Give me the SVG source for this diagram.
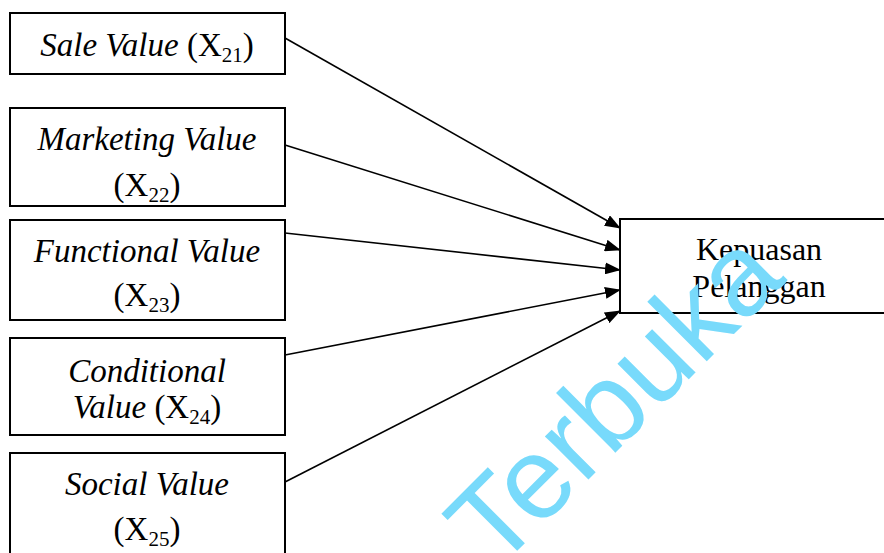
<svg xmlns="http://www.w3.org/2000/svg" width="884" height="553" viewBox="0 0 884 553">
<style>
.box{fill:#fff;stroke:#000;stroke-width:2}
.t{font-family:"Liberation Serif","Times New Roman",serif;font-size:33px;fill:#000;text-anchor:middle}
.i{font-style:italic}
.sub{font-size:21px}
.k{font-size:32px}
.c{stroke:#000;stroke-width:1.6;fill:none;marker-end:url(#ah)}
.wm{font-family:"Liberation Sans",Arial,sans-serif;font-size:116px;fill:#78DAFB}
</style>
<defs>
<marker id="ah" markerWidth="16" markerHeight="12" refX="15" refY="6" orient="auto" markerUnits="userSpaceOnUse">
<path d="M0,0 L16,6 L0,12 Z" fill="#000"/>
</marker>
</defs>
<rect width="884" height="553" fill="#fff"/>
<g id="n1"><rect class="box" x="10" y="13" width="275" height="61"/>
<text class="t" x="147" y="56"><tspan class="i">Sale Value</tspan> (X<tspan class="sub" dy="6">21</tspan><tspan dy="-6">)</tspan></text></g>
<g id="n2"><rect class="box" x="10" y="108" width="275" height="98"/>
<text class="t i" x="147" y="150">Marketing Value</text>
<text class="t" x="147" y="196">(X<tspan class="sub" dy="6">22</tspan><tspan dy="-6">)</tspan></text></g>
<g id="n3"><rect class="box" x="10" y="220" width="275" height="100"/>
<text class="t i" x="147" y="262">Functional Value</text>
<text class="t" x="147" y="306">(X<tspan class="sub" dy="6">23</tspan><tspan dy="-6">)</tspan></text></g>
<g id="n4"><rect class="box" x="10" y="338" width="275" height="97"/>
<text class="t i" x="147" y="382">Conditional</text>
<text class="t" x="147" y="418"><tspan class="i">Value</tspan> (X<tspan class="sub" dy="6">24</tspan><tspan dy="-6">)</tspan></text></g>
<g id="n5"><rect class="box" x="10" y="453" width="275" height="110"/>
<text class="t i" x="147" y="495">Social Value</text>
<text class="t" x="147" y="540">(X<tspan class="sub" dy="6">25</tspan><tspan dy="-6">)</tspan></text></g>
<g id="target"><rect class="box" x="620" y="219" width="272" height="94"/>
<text class="t k" x="759" y="260">Kepuasan</text>
<text class="t k" x="759" y="297">Pelanggan</text></g>
<g id="connectors">
<line class="c" x1="285" y1="38" x2="620" y2="228"/>
<line class="c" x1="285" y1="145" x2="620" y2="250"/>
<line class="c" x1="285" y1="233" x2="620" y2="270"/>
<line class="c" x1="285" y1="355" x2="620" y2="290"/>
<line class="c" x1="285" y1="482" x2="620" y2="311"/>
</g>
<text class="wm" transform="translate(496,572) rotate(-45)">Terbuka</text>
</svg>
